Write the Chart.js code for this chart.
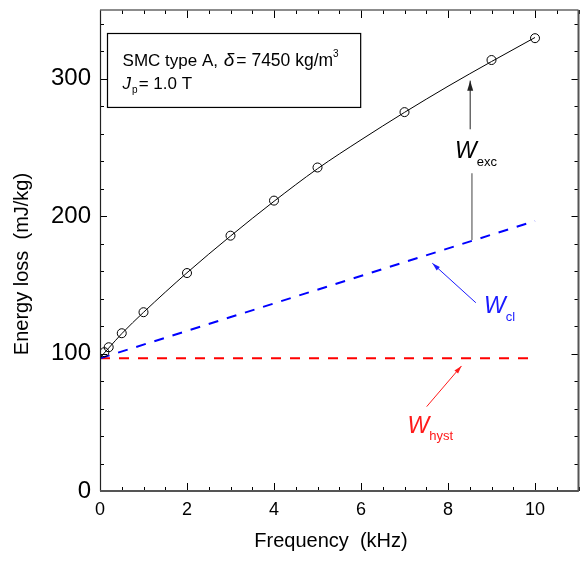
<!DOCTYPE html>
<html lang="en">
<head>
  <meta charset="UTF-8" />
  <title>SMC type A - Energy loss vs frequency</title>
  <script src="https://cdn.jsdelivr.net/npm/chart.js"></script>
  <style>
    html, body { margin: 0; padding: 0; background: #fff; overflow: hidden; }
    #wrap { width: 584px; height: 561px; }
  </style>
</head>
<body>
<div id="wrap"><canvas id="grafico" width="584" height="561"></canvas></div>
<script>
  // measured points (kHz, mJ/kg)
  const freqMeas = [0.1, 0.2, 0.5, 1, 2, 3, 4, 5, 7, 9, 10];
  const lossMeas = [101, 104.6, 114.8, 130.1, 158.6, 185.8, 211.3, 235.4, 275.7, 313.6, 329.5];
  // fitted total loss
  const freqFit = [0, 0.1, 0.2, 0.5, 1, 2, 3, 4, 5, 6, 7, 8, 9, 10];
  const lossFit = [96.5, 100.5, 104, 114.5, 130, 158.8, 185.5, 210.8, 234.5, 255.5, 275.5, 294.5, 312.5, 330];
  // classical + hysteresis components
  const freqCl = [0, 10];
  const lossCl = [96.5, 196.5];
  const freqHyst = [0, 10];
  const lossHyst = [96.6, 96.6];
  const xTicks = [0, 2, 4, 6, 8, 10];
  const yTicks = [0, 100, 200, 300];

  const FONT = "'Liberation Sans', Arial, sans-serif";
  const pares = (xs, ys) => xs.map((v, i) => ({ x: v, y: ys[i] }));

  function texto(ctx, x, y, partes) {
    let cx = x;
    partes.forEach(p => {
      ctx.font = p.font;
      ctx.fillText(p.t, cx, y + (p.dy || 0));
      cx += ctx.measureText(p.t).width + (p.gap || 0);
    });
  }

  function flecha(ctx, x0, y0, x1, y1, color, head) {
    ctx.strokeStyle = color; ctx.fillStyle = color; ctx.lineWidth = 1;
    ctx.beginPath(); ctx.moveTo(x0, y0); ctx.lineTo(x1, y1); ctx.stroke();
    const ang = Math.atan2(y1 - y0, x1 - x0);
    ctx.beginPath();
    ctx.moveTo(x1, y1);
    ctx.lineTo(x1 - head * Math.cos(ang) + head * 0.3 * Math.sin(ang), y1 - head * Math.sin(ang) - head * 0.3 * Math.cos(ang));
    ctx.lineTo(x1 - head * Math.cos(ang) - head * 0.3 * Math.sin(ang), y1 - head * Math.sin(ang) + head * 0.3 * Math.cos(ang));
    ctx.closePath(); ctx.fill();
  }

  const marco = {
    id: 'marco',
    afterDraw(chart) {
      const { ctx, chartArea: a, scales: { x, y } } = chart;
      const px = v => x.getPixelForValue(v);
      const py = v => y.getPixelForValue(v);
      ctx.save();
      const seg = (x0, y0, x1, y1) => { ctx.beginPath(); ctx.moveTo(x0, y0); ctx.lineTo(x1, y1); ctx.stroke(); };

      // ticks, pointing inward
      ctx.strokeStyle = '#000'; ctx.lineWidth = 1;
      for (let f = 0; f <= 11; f += 0.5) {
        const xx = Math.round(px(f)) + 0.5;
        const len = xTicks.includes(f) ? 8 : 4;
        seg(xx, a.bottom, xx, a.bottom - len);
        seg(xx, a.top, xx, a.top + len);
      }
      for (let v = 0; v <= 350; v += 20) {
        const yy = Math.round(py(v)) + 0.5;
        const len = yTicks.includes(v) ? 7 : 4;
        seg(a.left, yy, a.left + len, yy);
        seg(a.right, yy, a.right - len, yy);
      }
      // frame
      ctx.strokeStyle = '#222'; ctx.lineWidth = 1.2;
      seg(a.left + 0.5, a.top, a.left + 0.5, a.bottom);
      ctx.strokeStyle = '#666'; ctx.lineWidth = 1.5;
      seg(a.left, a.top, a.right, a.top);
      ctx.strokeStyle = '#555'; ctx.lineWidth = 2;
      seg(a.left, a.bottom, a.right, a.bottom);
      seg(a.right, a.top, a.right, a.bottom);

      // axis titles
      ctx.fillStyle = '#000';
      ctx.font = '20px ' + FONT;
      ctx.textAlign = 'center'; ctx.textBaseline = 'alphabetic';
      ctx.fillText('Frequency  (kHz)', 331, 547);
      ctx.save();
      ctx.translate(28, 264); ctx.rotate(-Math.PI / 2);
      ctx.fillText('Energy loss  (mJ/kg)', 0, 0);
      ctx.restore();

      // info box
      ctx.textAlign = 'left';
      ctx.strokeStyle = '#000'; ctx.lineWidth = 1.2;
      ctx.strokeRect(Math.round(px(0.16)) + 0.5, Math.round(py(333.3)) + 0.5, px(5.98) - px(0.16), py(279.5) - py(333.3));
      const bx = px(0.52);
      texto(ctx, bx, py(309.5), [
        { t: 'SMC type A, ', font: '17px ' + FONT, gap: 1 },
        { t: 'δ', font: 'italic 19px ' + FONT, gap: 2 },
        { t: '= 7450 kg/m', font: '17.5px ' + FONT },
        { t: '3', font: '10px ' + FONT, dy: -9 }
      ]);
      texto(ctx, bx, py(292.3), [
        { t: 'J', font: 'italic 17px ' + FONT, gap: 1 },
        { t: 'p', font: '10px ' + FONT, dy: 4, gap: 1 },
        { t: '= 1.0 T', font: '17px ' + FONT }
      ]);

      // W_exc
      flecha(ctx, px(8.51), py(263.2), px(8.51), py(298.6), '#222', 10);
      ctx.strokeStyle = '#888'; ctx.lineWidth = 1.6;
      seg(px(8.55), py(231.2), px(8.55), py(182.7));
      ctx.fillStyle = '#000';
      texto(ctx, px(8.16), py(242.1), [
        { t: 'W', font: 'italic 23px ' + FONT },
        { t: 'exc', font: '13px ' + FONT, dy: 8 }
      ]);

      // W_cl
      flecha(ctx, px(8.64), py(137.0), px(7.64), py(165.7), '#1a1aff', 8);
      ctx.fillStyle = '#1a1aff';
      texto(ctx, px(8.83), py(129.8), [
        { t: 'W', font: 'italic 23px ' + FONT },
        { t: 'cl', font: '13px ' + FONT, dy: 8 }
      ]);

      // W_hyst
      flecha(ctx, px(7.51), py(61.4), px(8.31), py(91), '#ff1a1a', 8);
      ctx.fillStyle = '#ff1a1a';
      texto(ctx, px(7.07), py(42.4), [
        { t: 'W', font: 'italic 23px ' + FONT },
        { t: 'hyst', font: '13px ' + FONT, dy: 7 }
      ]);
      ctx.restore();
    }
  };

  new Chart(document.getElementById('grafico'), {
    type: 'scatter',
    data: {
      datasets: [
        {
          label: 'Measured',
          data: pares(freqMeas, lossMeas),
          showLine: false,
          pointStyle: 'circle',
          pointRadius: 4.5,
          pointBorderWidth: 1,
          pointBorderColor: '#000',
          pointBackgroundColor: 'rgba(255,255,255,0)'
        },
        {
          label: 'W total',
          data: pares(freqFit, lossFit),
          showLine: true,
          borderColor: '#000',
          borderWidth: 1,
          pointRadius: 0,
          cubicInterpolationMode: 'monotone'
        },
        {
          label: 'W cl',
          data: pares(freqCl, lossCl),
          showLine: true,
          borderColor: '#0000ff',
          borderWidth: 2,
          borderDash: [10, 9],
          pointRadius: 0
        },
        {
          label: 'W hyst',
          data: pares(freqHyst, lossHyst),
          showLine: true,
          borderColor: '#ff0000',
          borderWidth: 2,
          borderDash: [10, 9],
          pointRadius: 0
        }
      ]
    },
    options: {
      responsive: false,
      animation: false,
      layout: { padding: { top: 10, right: 3, left: 0, bottom: 0 } },
      plugins: { legend: { display: false }, tooltip: { enabled: false } },
      scales: {
        x: {
          type: 'linear', min: 0, max: 11,
          afterBuildTicks: s => { s.ticks = xTicks.map(v => ({ value: v })); },
          afterFit: s => { s.height = 70; s.paddingLeft = 0; s.paddingRight = 0; },
          grid: { display: false, drawTicks: false },
          border: { display: false },
          ticks: { color: '#000', padding: 8, maxRotation: 0, font: { family: FONT, size: 18 } }
        },
        y: {
          type: 'linear', min: 0, max: 350,
          afterBuildTicks: s => { s.ticks = yTicks.map(v => ({ value: v })); },
          afterFit: s => { s.width = 100; s.paddingTop = 0; s.paddingBottom = 0; },
          grid: { display: false, drawTicks: false },
          border: { display: false },
          ticks: { color: '#000', padding: 9, font: { family: FONT, size: 24 } }
        }
      }
    },
    plugins: [marco]
  });
</script>
</body>
</html>
